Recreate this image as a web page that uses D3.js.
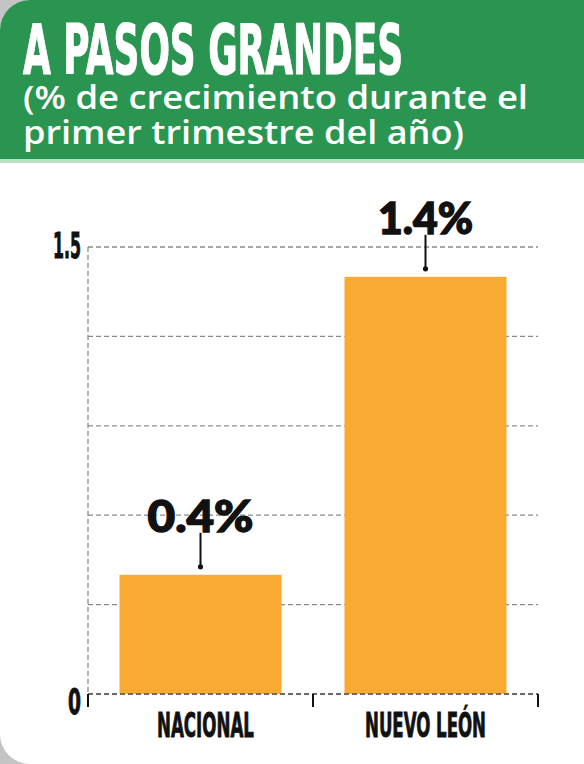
<!DOCTYPE html>
<html>
<head>
<meta charset="utf-8">
<script src="https://cdn.jsdelivr.net/npm/d3@7"></script>
<style>
  html, body { margin: 0; padding: 0; background: #ffffff; }
  svg { display: block; }
</style>
</head>
<body>
<svg id="chart" width="584" height="764"></svg>
<script>
// ---- data ----
const categories = ["NACIONAL", "NUEVO LEÓN"];
const values = [0.4, 1.4];
const valueLabels = ["0.4%", "1.4%"];
const gridValues = [0, 0.3, 0.6, 0.9, 1.2, 1.5];
const yTickValues = [0, 1.5];
const yTickLabels = ["0", "1.5"];
const title = "A PASOS GRANDES";
const subtitleLines = ["(% de crecimiento durante el", "primer trimestre del año)"];

// ---- layout ----
const W = 584, H = 764;
const svg = d3.select("#chart");
const green = "#2a9550";
const orange = "#f9aa33";
const condensed = "'Liberation Sans Narrow','DejaVu Sans Condensed','Roboto',sans-serif";

// background with rounded left corners (card look)
svg.append("rect").attr("width", W).attr("height", H).attr("fill", "#c4c4c4");
const r = 30;
const cardPath = `M${r},0 H${W} V${H} H${r} A${r},${r} 0 0 1 0,${H - r} V${r} A${r},${r} 0 0 1 ${r},0 Z`;
svg.append("path").attr("d", cardPath).attr("fill", "#ffffff");
svg.append("clipPath").attr("id", "card").append("path").attr("d", cardPath);

const header = svg.append("g").attr("clip-path", "url(#card)");
header.append("rect").attr("x", 0).attr("y", 0).attr("width", W).attr("height", 159).attr("fill", green);
header.append("rect").attr("x", 0).attr("y", 159).attr("width", W).attr("height", 4).attr("fill", "#b9e0c2");

svg.append("text")
  .attr("x", 23).attr("y", 74)
  .attr("font-family", condensed)
  .attr("font-weight", 700)
  .attr("font-size", 70)
  .attr("fill", "#ffffff")
  .attr("stroke", "#ffffff").attr("stroke-width", 1.2)
  .attr("textLength", 380)
  .attr("lengthAdjust", "spacingAndGlyphs")
  .text(title);

const subLens = [505, 441];
subtitleLines.forEach((t, i) => {
  svg.append("text")
    .attr("x", 23).attr("y", 109 + i * 35)
    .attr("font-family", "'Open Sans','Noto Sans',sans-serif")
    .attr("font-weight", 600)
    .attr("font-size", 32)
    .attr("fill", "#ffffff")
    .attr("textLength", subLens[i])
    .attr("lengthAdjust", "spacingAndGlyphs")
    .text(t);
});

// ---- scales ----
const x0 = 88, x1 = 538, yBottom = 694, yTop = 247;
const x = d3.scaleBand().domain(categories).range([x0, x1]).paddingInner(0.28).paddingOuter(0.14);
const y = d3.scaleLinear().domain([0, 1.5]).range([yBottom, yTop]);

// grid lines
const grid = svg.append("g");
grid.selectAll("line.grid").data(gridValues).join("line")
  .attr("class", "grid")
  .attr("x1", x0).attr("x2", x1)
  .attr("y1", d => y(d)).attr("y2", d => y(d))
  .attr("stroke", "#8a8a8a").attr("stroke-width", 1.3)
  .attr("stroke-dasharray", "5,3");
grid.append("line")
  .attr("x1", x0).attr("x2", x0).attr("y1", y(1.5)).attr("y2", y(0))
  .attr("stroke", "#8a8a8a").attr("stroke-width", 1.3).attr("stroke-dasharray", "5,3");

// bars
svg.selectAll("rect.bar").data(categories).join("rect")
  .attr("class", "bar")
  .attr("x", d => x(d)).attr("width", x.bandwidth())
  .attr("y", (d, i) => y(values[i]))
  .attr("height", (d, i) => y(0) - y(values[i]))
  .attr("fill", orange);

// bottom axis line + ticks at band boundaries
svg.append("line")
  .attr("x1", x0).attr("x2", x1).attr("y1", y(0)).attr("y2", y(0))
  .attr("stroke", "#555").attr("stroke-width", 1.3).attr("stroke-dasharray", "5,3");
const boundaries = [x0, (x0 + x1) / 2, x1];
svg.selectAll("line.tick").data(boundaries).join("line")
  .attr("class", "tick")
  .attr("x1", d => d).attr("x2", d => d)
  .attr("y1", y(0)).attr("y2", y(0) + 13)
  .attr("stroke", "#111").attr("stroke-width", 2);

// category labels
svg.selectAll("text.cat").data(categories).join("text")
  .attr("class", "cat")
  .attr("x", d => x(d) + x.bandwidth() / 2 + (d === "NACIONAL" ? 5 : 0))
  .attr("y", 737)
  .attr("text-anchor", "middle")
  .attr("font-family", condensed)
  .attr("font-weight", 700)
  .attr("font-size", 34)
  .attr("fill", "#111")
  .attr("stroke", "#111").attr("stroke-width", 0.9)
  .attr("textLength", d => d === "NACIONAL" ? 97 : 121)
  .attr("lengthAdjust", "spacingAndGlyphs")
  .text(d => d);

// y tick labels
svg.selectAll("text.ytick").data(yTickValues).join("text")
  .attr("class", "ytick")
  .attr("x", 81)
  .attr("y", d => y(d) + (d === 0 ? 20 : 11))
  .attr("text-anchor", "end")
  .attr("font-family", condensed)
  .attr("font-weight", 700)
  .attr("font-size", 35)
  .attr("fill", "#111")
  .attr("stroke", "#111").attr("stroke-width", 0.9)
  .attr("textLength", (d, i) => yTickLabels[i] === "0" ? 13 : 28)
  .attr("lengthAdjust", "spacingAndGlyphs")
  .text((d, i) => yTickLabels[i]);

// value labels with connector
const lab = svg.selectAll("g.vl").data(categories).join("g").attr("class", "vl");
lab.append("line")
  .attr("x1", d => x(d) + x.bandwidth() / 2).attr("x2", d => x(d) + x.bandwidth() / 2)
  .attr("y1", (d, i) => y(values[i]) - 42).attr("y2", (d, i) => y(values[i]) - 8)
  .attr("stroke", "#111").attr("stroke-width", 2);
lab.append("circle")
  .attr("cx", d => x(d) + x.bandwidth() / 2)
  .attr("cy", (d, i) => y(values[i]) - 8)
  .attr("r", 2.6).attr("fill", "#111");
lab.append("text")
  .attr("x", d => x(d) + x.bandwidth() / 2)
  .attr("y", (d, i) => y(values[i]) - 43)
  .attr("text-anchor", "middle")
  .attr("font-family", "'Lato','Open Sans',sans-serif")
  .attr("font-weight", 900)
  .attr("font-size", 43)
  .attr("fill", "#111")
  .attr("stroke", "#111").attr("stroke-width", 1.4)
  .attr("textLength", (d, i) => i === 0 ? 106 : 95)
  .attr("lengthAdjust", "spacingAndGlyphs")
  .text((d, i) => valueLabels[i]);
</script>
</body>
</html>
